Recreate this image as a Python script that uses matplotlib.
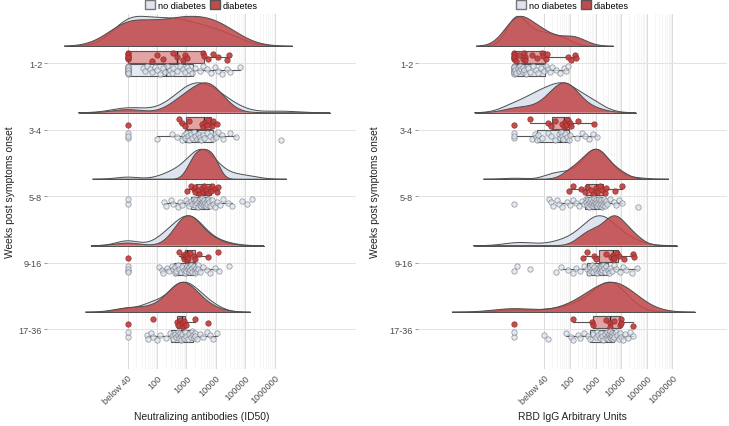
import matplotlib
matplotlib.use("Agg")
import matplotlib.pyplot as plt
import numpy as np
from matplotlib.patches import Patch

# rows (weeks post symptom onset), top to bottom
ROWS = ["1-2", "3-4", "5-8", "9-16", "17-36"]
TICK_POS = [1, 2, 3, 4, 5, 6]
TICK_LABELS = ["below 40", "100", "1000", "10000", "100000", "1000000"]

# log10 values; "below 40" is coded 1.0 (left) / -0.2 (right)
NAB_DIAB = [
    [1.0, 1.0, 1.0, 1.0, 1.0, 1.0, 1.82, 1.99, 2.21, 2.55, 2.67, 2.87, 2.95, 3.03, 3.57, 3.59,
     3.74, 3.91, 4.08, 4.36, 4.45],
    [1.0, 2.75, 2.84, 2.96, 3.1, 3.52, 3.57, 3.63, 3.71, 3.74, 3.85, 3.86, 3.91, 4.05],
    [3.03, 3.15, 3.25, 3.29, 3.3, 3.4, 3.45, 3.52, 3.57, 3.6, 3.65, 3.72, 3.8, 3.82, 3.88,
     3.95, 4.02, 4.08],
    [1.0, 2.75, 2.87, 2.92, 2.95, 2.98, 3.02, 3.03, 3.05, 3.12, 3.25, 3.3, 3.43, 3.74, 4.08],
    [1.0, 1.88, 2.67, 2.7, 2.78, 2.84, 2.88, 2.93, 2.97, 3.29, 3.74],
]
NAB_NO = [
    [1.0, 1.0, 1.0, 1.0, 1.0, 1.0, 1.0, 1.0, 1.0, 1.0, 1.0, 1.0, 1.54, 1.6, 1.65, 1.75, 1.82,
     1.93, 2.0, 2.1, 2.2, 2.27, 2.35, 2.44, 2.5, 2.55, 2.67, 2.78, 2.87, 2.95, 3.03, 3.1, 3.19,
     3.3, 3.47, 3.57, 3.69, 3.82, 3.97, 4.08, 4.19, 4.36, 4.47, 4.81],
    [1.0, 1.0, 1.0, 2.01, 2.52, 2.69, 2.85, 2.9, 2.95, 3.0, 3.05, 3.1, 3.15, 3.2, 3.25, 3.3,
     3.35, 3.4, 3.45, 3.5, 3.55, 3.6, 3.7, 3.8, 3.9, 3.97, 4.0, 4.08, 4.19, 4.25, 4.47, 4.68, 6.2],
    [1.0, 1.0, 2.25, 2.31, 2.46, 2.55, 2.72, 2.78, 2.85, 2.98, 3.05, 3.1, 3.14, 3.2, 3.25, 3.28,
     3.3, 3.33, 3.35, 3.4, 3.42, 3.45, 3.46, 3.48, 3.5, 3.51, 3.52, 3.53, 3.55, 3.58, 3.6, 3.62,
     3.65, 3.68, 3.7, 3.72, 3.75, 3.8, 3.85, 3.9, 3.95, 4.02, 4.14, 4.25, 4.42, 4.53, 4.87,
     5.04, 5.21],
    [1.0, 1.0, 1.0, 1.0, 2.08, 2.16, 2.2, 2.33, 2.4, 2.5, 2.55, 2.6, 2.62, 2.65, 2.7, 2.75, 2.8,
     2.85, 2.9, 2.95, 2.98, 3.0, 3.03, 3.05, 3.08, 3.1, 3.12, 3.15, 3.18, 3.2, 3.25, 3.28, 3.3,
     3.32, 3.35, 3.38, 3.4, 3.46, 3.55, 3.68, 3.8, 3.97, 4.1, 4.45],
    [1.0, 1.0, 1.65, 1.7, 1.8, 1.88, 2.0, 2.1, 2.3, 2.45, 2.5, 2.55, 2.6, 2.65, 2.7, 2.72,
     2.75, 2.78, 2.8, 2.82, 2.85, 2.9, 2.95, 3.0, 3.05, 3.1, 3.15, 3.2, 3.22, 3.25, 3.28, 3.3,
     3.35, 3.46, 3.55, 3.68, 3.8, 3.9, 4.02],
]
RBD_DIAB = [
    [-0.2, -0.2, -0.2, -0.2, -0.2, -0.2, -0.1, 0.0, 0.15, 0.2, 0.22, 0.25, 0.5, 0.7, 0.89,
     0.95, 1.05, 1.1, 1.93, 2.05, 2.2, 2.23],
    [-0.2, 0.44, 1.15, 1.25, 1.41, 1.68, 1.75, 1.8, 1.85, 1.9, 1.98, 2.03, 2.29, 2.95],
    [1.97, 2.13, 2.42, 2.6, 2.68, 2.8, 2.9, 3.0, 3.05, 3.15, 3.25, 3.35, 3.4, 3.76, 4.02],
    [2.5, 2.68, 2.95, 3.02, 3.41, 3.6, 3.67, 3.69, 3.72, 3.85, 3.9, 4.11, 4.45, 4.5],
    [-0.2, 2.13, 2.87, 2.9, 3.4, 3.54, 3.55, 3.72, 3.95, 3.98, 4.0, 4.47],
]
RBD_NO = [
    [-0.2, -0.2, -0.2, -0.2, -0.2, -0.2, -0.2, -0.2, -0.2, -0.2, -0.15, -0.1, -0.05, 0.0, 0.05,
     0.1, 0.15, 0.18, 0.21, 0.28, 0.35, 0.45, 0.55, 0.65, 0.75, 0.88, 1.0, 1.05, 1.12, 1.2,
     1.3, 1.45, 1.61, 1.75, 1.85, 1.93],
    [-0.2, -0.2, -0.2, 0.5, 0.63, 0.65, 0.7, 0.75, 0.9, 1.15, 1.25, 1.4, 1.55, 1.6, 1.65, 1.68,
     1.72, 1.8, 1.88, 1.95, 2.0, 2.26, 2.45, 2.59, 2.75, 2.91, 3.04],
    [-0.2, 1.19, 1.25, 1.35, 1.48, 1.58, 1.7, 1.87, 2.0, 2.1, 2.25, 2.33, 2.45, 2.55, 2.62,
     2.63, 2.66, 2.7, 2.72, 2.75, 2.78, 2.8, 2.82, 2.85, 2.88, 2.9, 2.92, 2.95, 2.98, 3.0, 3.02,
     3.03, 3.05, 3.08, 3.1, 3.12, 3.15, 3.18, 3.2, 3.22, 3.25, 3.28, 3.3, 3.32, 3.35, 3.38, 3.4,
     3.45, 3.56, 3.7, 3.8, 3.9, 4.02, 4.67],
    [-0.2, -0.06, 0.44, 1.45, 1.64, 1.9, 2.1, 2.25, 2.4, 2.55, 2.65, 2.72, 2.78, 2.8, 2.85,
     2.88, 2.9, 2.95, 3.0, 3.05, 3.1, 3.12, 3.15, 3.18, 3.2, 3.22, 3.25, 3.28, 3.32, 3.38, 3.42,
     3.48, 3.52, 3.56, 3.62, 3.7, 3.8, 3.95, 4.08, 4.2, 4.41, 4.6],
    [-0.2, -0.2, 1.0, 1.15, 1.84, 2.05, 2.13, 2.3, 2.39, 2.55, 2.7, 2.78, 2.9, 3.0, 3.05, 3.1,
     3.15, 3.2, 3.25, 3.3, 3.35, 3.4, 3.45, 3.48, 3.5, 3.52, 3.54, 3.56, 3.58, 3.6, 3.62, 3.65,
     3.68, 3.7, 3.72, 3.78, 3.85, 3.9, 3.93, 3.98, 4.05, 4.15, 4.25, 4.35, 4.47],
]

RED = "#C24A4C"
RED_BOX = "#E3A3A3"
RED_PT = "#C23B3B"
BLUE = "#DDE4EF"
BLUE_BOX = "#E4EAF3"
BLUE_PT = "#DDE3EC"
OUTLINE = "#4D4D4D"
TEXT = "#4D4D4D"


def bandwidth(v):
    v = np.asarray(v)
    return 1.06 * v.std(ddof=1) * len(v) ** -0.2


def ndensity(v, grid):
    v = np.asarray(v)
    bw = bandwidth(v)
    d = np.exp(-0.5 * ((grid[:, None] - v[None, :]) / bw) ** 2).sum(axis=1)
    return d / d.max()


def jitter(n, half):
    # deterministic vertical spread, golden-ratio sequence
    return ((np.arange(n) * 0.6180339887 + 0.31) % 1.0 - 0.5) * 2 * half


def draw_panel(ax, no_diab, diab, xlim, xlabel, ylab_x):
    ys = np.arange(len(ROWS))[::-1].astype(float)
    for y, vn, vd in zip(ys, no_diab, diab):
        lo = min(min(vn) - 3 * bandwidth(vn), min(vd) - 3 * bandwidth(vd))
        hi = max(max(vn) + 3 * bandwidth(vn), max(vd) + 3 * bandwidth(vd))
        grid = np.linspace(lo, hi, 500)
        base = y + 0.255
        for v, fc, al, z in [(vn, BLUE, 1.0, 2), (vd, RED, 0.88, 3)]:
            top = base + 0.45 * ndensity(v, grid)
            ax.fill_between(grid, base, top, facecolor=fc, alpha=al, edgecolor="none", zorder=z)
            ax.plot(grid, top, color=OUTLINE, lw=0.7, zorder=z + 0.1)
        ax.plot([lo, hi], [base, base], color=OUTLINE, lw=0.7, zorder=3.2)

        for v, pos, fc, pc, ec, al in [(vd, y + 0.1, RED_BOX, RED_PT, "#8E2F2F", 0.9),
                                       (vn, y - 0.1, BLUE_BOX, BLUE_PT, "#737A85", 0.75)]:
            bp = ax.boxplot([v], positions=[pos], orientation="horizontal", widths=0.18,
                            patch_artist=True, showfliers=False, showcaps=False,
                            manage_ticks=False, zorder=4)
            for b in bp["boxes"]:
                b.set(facecolor=fc, edgecolor="#555555", linewidth=0.8)
            for w in bp["whiskers"]:
                w.set(color="#555555", linewidth=0.8)
            for m in bp["medians"]:
                m.set(color="#222222", linewidth=1.0)
            ax.scatter(v, pos + jitter(len(v), 0.065), s=15, facecolor=pc, edgecolor=ec,
                       linewidth=0.55, alpha=al, zorder=5)

    ax.set_xlim(*xlim)
    ax.set_ylim(-0.6, 4.74)
    ax.set_yticks(ys, ROWS)
    ax.set_xticks(TICK_POS, TICK_LABELS, rotation=45, ha="right", rotation_mode="anchor")
    minor = [d + np.log10(k) for d in range(1, 6) for k in range(2, 10)]
    ax.set_xticks(minor, minor=True)
    ax.grid(axis="x", which="major", color="#DADADA", lw=0.7, zorder=0)
    ax.grid(axis="x", which="minor", color="#F1F1F1", lw=0.5, zorder=0)
    ax.grid(axis="y", which="major", color="#E3E3E3", lw=0.7, zorder=0)
    ax.set_axisbelow(True)
    for s in ax.spines.values():
        s.set_visible(False)
    ax.tick_params(axis="x", which="both", length=0, labelsize=6.6, colors=TEXT, pad=3)
    ax.tick_params(axis="y", length=2.5, width=0.6, color="#888888", labelsize=6.6,
                   labelcolor=TEXT, pad=1)
    ax.set_xlabel(xlabel, fontsize=7.4, color="#222222")
    ax.xaxis.set_label_coords(0.5, -0.132)
    ax.xaxis.label.set_va("center")
    ax.set_ylabel("Weeks post symptoms onset", fontsize=7.4, color="#222222")
    ax.yaxis.set_label_coords(ylab_x, 0.5)
    ax.yaxis.label.set_va("center")
    handles = [Patch(facecolor=BLUE, edgecolor="#777777", label="no diabetes"),
               Patch(facecolor=RED, edgecolor="#555555", label="diabetes")]
    ax.legend(handles=handles, loc="center", bbox_to_anchor=(0.5, 1.025), ncol=2,
              frameon=False, fontsize=6.6, handlelength=1.05, handleheight=1.05,
              handletextpad=0.35, columnspacing=0.5, borderpad=0.0)


def main():
    plt.rcParams["font.family"] = ["Liberation Sans", "DejaVu Sans"]
    fig = plt.figure(figsize=(7.29, 4.27), dpi=100)
    ax1 = fig.add_axes([0.0645, 0.1335, 0.4239, 0.8314])
    ax2 = fig.add_axes([0.5734, 0.1335, 0.4239, 0.8314])
    draw_panel(ax1, NAB_NO, NAB_DIAB, (-1.73, 8.75), "Neutralizing antibodies (ID50)", -0.12)
    draw_panel(ax2, RBD_NO, RBD_DIAB, (-3.94, 8.13), "RBD IgG Arbitrary Units", -0.139)
    fig.savefig("out.png", dpi=100, facecolor="white")


if __name__ == "__main__":
    main()
